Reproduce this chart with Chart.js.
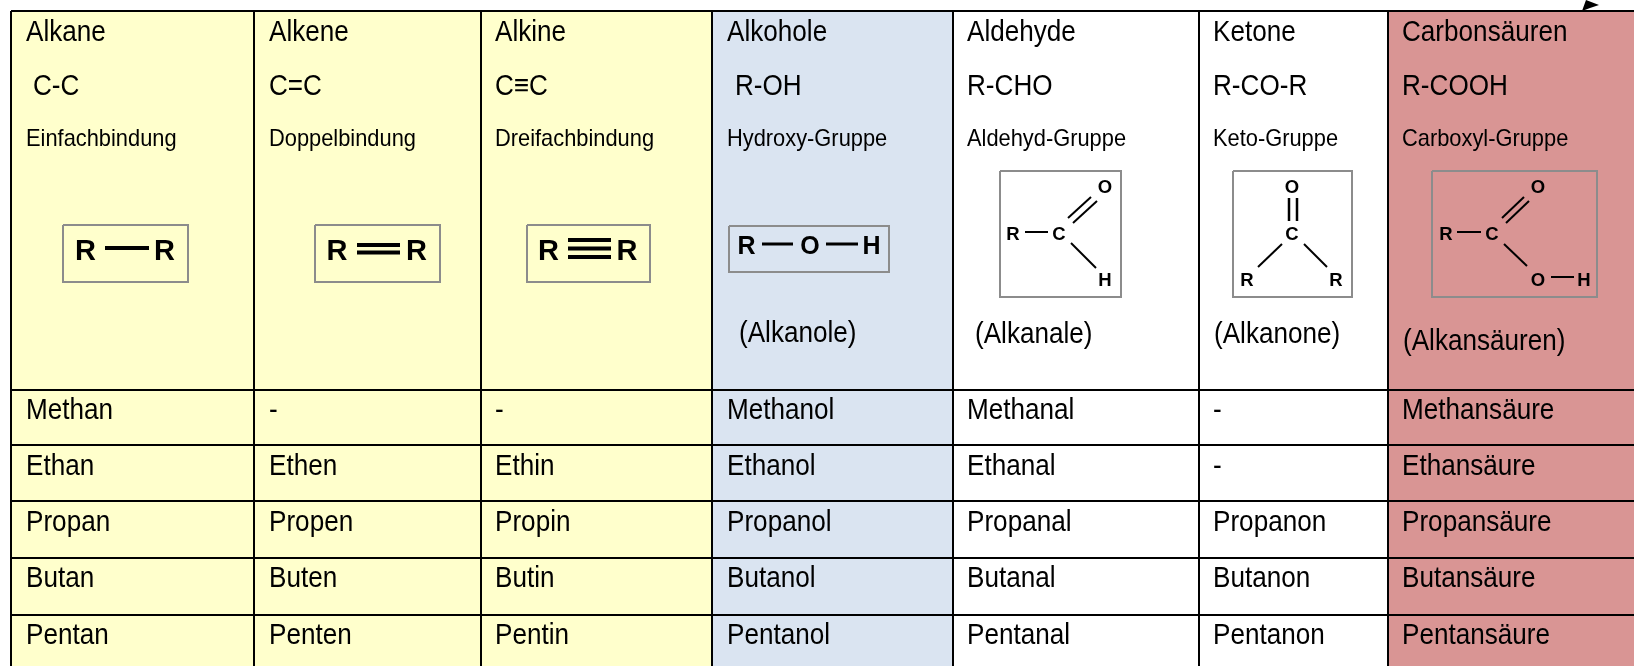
<!DOCTYPE html>
<html><head><meta charset="utf-8">
<style>html,body{margin:0;padding:0;background:#fff}canvas{display:block}</style>
<script src="https://cdn.jsdelivr.net/npm/chart.js@4/dist/chart.umd.min.js"></script>
</head><body><canvas id="c" width="1634" height="666"></canvas>
<script>
// table structure (axis units = picture units)
const colEdges = [11, 254, 481, 712, 953, 1199, 1388];
const rowEdges = [11, 389.5, 444.5, 501.5, 558, 615];
const colFills = ['#FFFFCC','#FFFFCC','#FFFFCC','#DAE4F1','#FFFFFF','#FFFFFF','#D99594'];
const tableEnd = 1634;

// text content
const families = ['Alkane','Alkene','Alkine','Alkohole','Aldehyde','Ketone','Carbonsäuren'];
const formulas = ['C-C','C=C','C≡C','R-OH','R-CHO','R-CO-R','R-COOH'];
const groups = ['Einfachbindung','Doppelbindung','Dreifachbindung','Hydroxy-Gruppe','Aldehyd-Gruppe','Keto-Gruppe','Carboxyl-Gruppe'];
const classes = ['','','','(Alkanole)','(Alkanale)','(Alkanone)','(Alkansäuren)'];
const alkanes = ['Methan','Ethan','Propan','Butan','Pentan'];
const alkenes = ['-','Ethen','Propen','Buten','Penten'];
const alkines = ['-','Ethin','Propin','Butin','Pentin'];
const alkanols = ['Methanol','Ethanol','Propanol','Butanol','Pentanol'];
const alkanals = ['Methanal','Ethanal','Propanal','Butanal','Pentanal'];
const alkanones = ['-','-','Propanon','Butanon','Pentanon'];
const acids = ['Methansäure','Ethansäure','Propansäure','Butansäure','Pentansäure'];
const bodyColumns = [alkanes,alkenes,alkines,alkanols,alkanals,alkanones,acids];

// text anchors
const textX = [26,269,495,727,967,1213,1402];
const formulaX = [33,269,495,735,967,1213,1402];
const classX = [0,0,0,739,975,1214,1403];
const classY = [0,0,0,342,343,343,350];
const bodyY = [419,475,531,587,644];

// structure diagrams: boxes [x0,y0,x1,y1]
const boxes = [[63,225,188,282],[315,225,440,282],[527,225,650,282],[729,226,889,272],
  [1000,171,1121,297],[1233,171,1352,297],[1432,171,1597,297]];
// bonds [x0,y0,x1,y1,width]
const bonds = [
 [105,248,149,248,4],
 [357,245,400,245,4],[357,252.5,400,252.5,4],
 [568,240,611,240,4],[568,248.5,611,248.5,4],[568,257,611,257,4],
 [762,244,793,244,3],[826,244,858,244,3],
 [1025,232,1048,232,2],[1068,218,1091,197,2],[1073,223,1097,201,2],[1071,243,1096,268,2],
 [1289,198,1289,221,2.5],[1297,198,1297,221,2.5],[1282,244,1258,267,2],[1304,244,1327,267,2],
 [1457,232,1481,232,2],[1502,218,1524,197,2],[1506,223,1529,201,2],[1504,244,1527,266,2],[1551,277,1574,277,2]
];
// atom labels [text, centre x, baseline y, font px]
const atoms = [
 ['R',85.5,260,29],['R',164.5,260,29],
 ['R',337,260,29],['R',416.5,260,29],
 ['R',548.5,260,29],['R',627,260,29],
 ['R',746.5,254,25],['O',810,254,25],['H',871.5,254,25],
 ['R',1013,240,18.5],['C',1059,240,18.5],['O',1105,193,18.5],['H',1105,286,18.5],
 ['O',1292,193,18.5],['C',1292,240,18.5],['R',1247,286,18.5],['R',1336,286,18.5],
 ['R',1446,240,18.5],['C',1492,240,18.5],['O',1538,193,18.5],['O',1538,286,18.5],['H',1584,286,18.5]
];
const arrowHead = [[1582,11],[1586,0],[1599,5],[1590,8]];

const colBars = colFills.map((c,i)=>({
  type:'bar', indexAxis:'y', xAxisID:'x', yAxisID:'y', grouped:false,
  data:[[colEdges[i], i+1<colEdges.length?colEdges[i+1]:tableEnd]],
  backgroundColor:c, borderWidth:0, barPercentage:1, categoryPercentage:1, order:5
}));
const lineSet = (pts,color,w)=>({type:'scatter',showLine:true,xAxisID:'x',yAxisID:'yv',
  data:pts,borderColor:color,borderWidth:w,pointRadius:0,fill:false,tension:0,clip:false,order:1,
  borderCapStyle:'butt',borderJoinStyle:'miter'});
const boxSets = boxes.map(b=>lineSet([{x:b[0],y:b[1]},{x:b[2],y:b[1]},{x:b[2],y:b[3]},{x:b[0],y:b[3]},{x:b[0],y:b[1]}],'#8C8C8C',2));
const bondSets = bonds.map(b=>lineSet([{x:b[0],y:b[1]},{x:b[2],y:b[3]}],'#000000',b[4]));

function squished(ctx,text,x,y,size,sx,bold){
  ctx.save();
  ctx.translate(x,y);ctx.scale(sx,1);
  ctx.font=(bold?'bold ':'')+size+'px "Liberation Sans"';
  ctx.textBaseline='alphabetic';
  ctx.fillStyle='#000';
  ctx.fillText(text,0,0);
  ctx.restore();
}
const textPlugin={id:'tableText',afterDraw(chart){
  const ctx=chart.ctx,X=chart.scales.x,Y=chart.scales.yv;
  const L=29.5,LS=.885,S=24,SS=.91;
  families.forEach((t,i)=>{
    squished(ctx,t,X.getPixelForValue(textX[i]),Y.getPixelForValue(41),L,LS);
    squished(ctx,formulas[i],X.getPixelForValue(formulaX[i]),Y.getPixelForValue(95),L,LS);
    squished(ctx,groups[i],X.getPixelForValue(textX[i]),Y.getPixelForValue(145.5),S,SS);
    if(classes[i])squished(ctx,classes[i],X.getPixelForValue(classX[i]),Y.getPixelForValue(classY[i]),L,LS);
    bodyColumns[i].forEach((t2,r)=>squished(ctx,t2,X.getPixelForValue(textX[i]),Y.getPixelForValue(bodyY[r]),L,LS));
  });
  atoms.forEach(a=>{
    ctx.save();ctx.textAlign='center';
    squished(ctx,a[0],X.getPixelForValue(a[1]),Y.getPixelForValue(a[2]),a[3],1,true);
    ctx.restore();
  });
  ctx.save();ctx.fillStyle='#000';ctx.beginPath();
  arrowHead.forEach((p,i)=>{const px=X.getPixelForValue(p[0]),py=Y.getPixelForValue(p[1]);i?ctx.lineTo(px,py):ctx.moveTo(px,py);});
  ctx.closePath();ctx.fill();ctx.restore();
}};

new Chart(document.getElementById('c'),{
  data:{labels:['Spalten'],datasets:[...colBars,...boxSets,...bondSets]},
  options:{
    responsive:false,animation:false,
    layout:{padding:{left:11,top:11,right:0,bottom:0}},
    plugins:{legend:{display:false},tooltip:{enabled:false},title:{display:false}},
    scales:{
      x:{type:'linear',position:'top',min:11,max:1634,stacked:false,
         afterBuildTicks:s=>{s.ticks=colEdges.map(v=>({value:v}));},
         ticks:{display:false,autoSkip:false},border:{display:false},
         grid:{color:'#000',lineWidth:2,z:1,drawTicks:false}},
      y:{type:'category',display:false,stacked:false},
      yv:{type:'linear',position:'left',reverse:true,min:11,max:666,
         afterBuildTicks:s=>{s.ticks=rowEdges.map(v=>({value:v}));},
         ticks:{display:false,autoSkip:false},border:{display:false},
         grid:{color:'#000',lineWidth:2,z:1,drawTicks:false}}
    }
  },
  plugins:[textPlugin]
});
</script></body></html>
